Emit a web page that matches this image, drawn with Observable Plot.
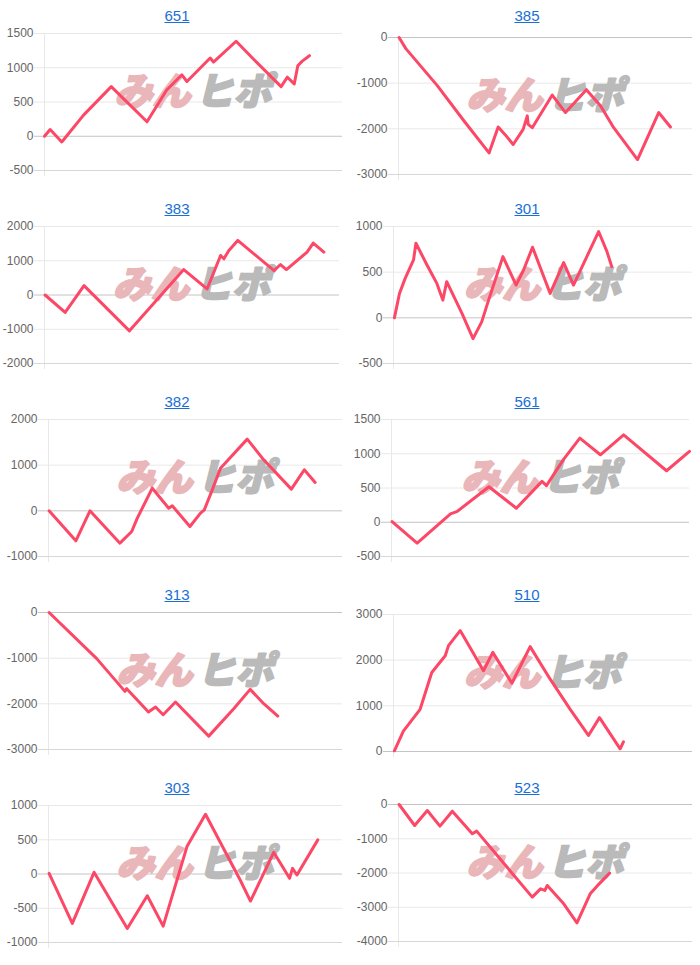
<!DOCTYPE html>
<html>
<head>
<meta charset="utf-8">
<script src="https://cdn.jsdelivr.net/npm/d3@7"></script>
<script src="https://cdn.jsdelivr.net/npm/@observablehq/plot@0.6"></script>
<style>
  html, body { margin: 0; padding: 0; background: #fff; }
  #grid { display: grid; grid-template-columns: 350px 350px; grid-auto-rows: 193px; width: 700px; }
  .cell { position: relative; width: 350px; height: 193px; }
  .title { height: 20px; line-height: 32px; text-align: center; font-family: "Liberation Sans", Arial, sans-serif; font-size: 15px; padding-left: 4px; position: relative; z-index: 1; }
  .title a { color: #1a6fd6; text-decoration: underline; }
  svg { display: block; overflow: visible; }
</style>
</head>
<body>
<div id="grid"></div>
<script>
// machine numbers (panel titles)
const machines = ["651", "385", "383", "301", "382", "561", "313", "510", "303", "523"];

// series: [position along x (0..1000), value]
const s651 = [[0,0],[19,98],[58,-83],[131,309],[224,725],[344,211],[410,676],[461,897],[478,799],[556,1142],[567,1083],[643,1387],[701,1127],[794,725],[815,862],[838,764],[850,1029],[864,1093],[889,1176]];
const s385 = [[2,0],[25,-243],[132,-1054],[223,-1828],[308,-2528],[339,-1960],[362,-2122],[390,-2343],[424,-2012],[438,-1717],[441,-1901],[455,-1975],[523,-1260],[568,-1643],[639,-1142],[687,-1496],[732,-1975],[813,-2675],[885,-1643],[925,-1960]];
const s383 = [[2,0],[70,-509],[134,274],[288,-1047],[472,743],[551,176],[597,1154],[608,1056],[625,1301],[655,1594],[778,714],[800,890],[820,743],[890,1252],[911,1516],[947,1252]];
const s301 = [[3,0],[20,267],[39,432],[67,634],[75,817],[112,579],[145,377],[165,194],[178,396],[229,48],[266,-227],[295,-44],[318,194],[366,670],[410,359],[435,524],[465,773],[524,267],[569,604],[602,359],[686,945],[714,725],[730,560]];
const s382 = [[2,0],[93,-657],[141,0],[243,-708],[283,-453],[302,-161],[353,496],[409,58],[421,110],[481,-343],[517,-51],[530,22],[557,460],[585,934],[676,1570],[732,1117],[826,475],[870,898],[907,621]];
const s561 = [[2,10],[86,-306],[198,121],[221,160],[327,519],[419,204],[505,597],[520,534],[578,922],[632,1228],[701,985],[779,1277],[923,752],[1000,1034]];
const s313 = [[2,0],[164,-1010],[260,-1727],[266,-1668],[340,-2180],[364,-2070],[390,-2239],[432,-1961],[545,-2707],[630,-2107],[686,-1683],[732,-1997],[780,-2268]];
const s510 = [[3,15],[33,447],[89,924],[128,1731],[173,2098],[184,2318],[223,2648],[301,1768],[332,2171],[396,1496],[457,2296],[524,1584],[591,924],[652,352],[689,741],[758,59],[769,213]];
const s303 = [[2,10],[81,-722],[155,24],[268,-795],[336,-317],[390,-761],[471,400],[534,873],[607,278],[652,-88],[687,-395],[766,317],[820,-63],[830,83],[845,-15],[916,498]];
const s523 = [[2,0],[55,-613],[98,-175],[141,-632],[183,-195],[251,-856],[266,-778],[455,-2705],[483,-2462],[498,-2510],[506,-2364],[562,-2900],[607,-3454],[652,-2608],[675,-2384],[718,-2004]];

// y tick labels per panel
const ticks651 = [-500, 0, 500, 1000, 1500];
const ticks385 = [-3000, -2000, -1000, 0];
const ticks383 = [-2000, -1000, 0, 1000, 2000];
const ticks301 = [-500, 0, 500, 1000];
const ticks382 = [-1000, 0, 1000, 2000];
const ticks561 = [-500, 0, 500, 1000, 1500];
const ticks313 = [-3000, -2000, -1000, 0];
const ticks510 = [0, 1000, 2000, 3000];
const ticks303 = [-1000, -500, 0, 500, 1000];
const ticks523 = [-4000, -3000, -2000, -1000, 0];

const seriesList = [s651, s385, s383, s301, s382, s561, s313, s510, s303, s523];
const tickList = [ticks651, ticks385, ticks383, ticks301, ticks382, ticks561, ticks313, ticks510, ticks303, ticks523];
const watermarkA = "みん";
const watermarkB = "ヒポ";

// layout (not data)
const marginLefts = [44, 48, 44, 43, 48, 41, 48, 43, 48, 48];
const marginRights = [8, 8, 11, 8, 8, 11, 8, 8, 8, 8];
const marginTops = [13, 17, 13, 13, 13, 13, 13, 15, 13, 12];

const grid = document.getElementById("grid");
machines.forEach((m, i) => {
  const cell = document.createElement("div");
  cell.className = "cell";
  const t = document.createElement("div");
  t.className = "title";
  const a = document.createElement("a");
  a.href = "#";
  a.textContent = m;
  t.appendChild(a);
  cell.appendChild(t);

  const ticks = tickList[i];
  const data = seriesList[i].map(([x, y]) => ({x, y}));
  const yMin = d3.min(ticks), yMax = d3.max(ticks);
  const mt = marginTops[i];
  const plotH = 137;
  const height = 173;
  const mb = height - mt - plotH;

  const chart = Plot.plot({
    width: 350,
    height,
    marginTop: mt,
    marginBottom: mb,
    marginLeft: marginLefts[i],
    marginRight: marginRights[i],
    style: {background: "transparent", fontFamily: "'Liberation Sans', Arial, sans-serif", fontSize: "12px", overflow: "visible"},
    x: {domain: [0, 1000], axis: null},
    y: {domain: [yMin, yMax], axis: null},
    marks: [
      Plot.ruleY(ticks.filter(v => v !== 0 && v !== yMin), {stroke: "#e8e8e8", strokeWidth: 1, insetLeft: -10}),
      Plot.ruleX([0], {stroke: "#e8e8e8", strokeWidth: 1, insetBottom: -6}),
      Plot.ruleY([yMin], {stroke: yMin === 0 ? "#c4c4c4" : "#d8d8d8", strokeWidth: 1, insetLeft: -10}),
      Plot.ruleY(ticks.filter(v => v === 0 && v !== yMin), {stroke: "#c4c4c4", strokeWidth: 1, insetLeft: -10}),
      Plot.axisY(ticks, {tickSize: 0, tickPadding: 11, fill: "#666", fontSize: 12, label: null, tickFormat: d => String(d)}),
      Plot.text([watermarkA], {text: d => d, frameAnchor: "middle", textAnchor: "end", dx: -3, dy: -9,
        fill: "#e9b7b9", stroke: "#e9b7b9", strokeWidth: 2, fontSize: 38, fontWeight: 900, fontStyle: "italic",
        fontFamily: "'Noto Sans CJK JP', sans-serif"}),
      Plot.text([watermarkB], {text: d => d, frameAnchor: "middle", textAnchor: "start", dx: 2, dy: -9,
        fill: "#bababa", stroke: "#bababa", strokeWidth: 2, fontSize: 38, fontWeight: 900, fontStyle: "italic",
        fontFamily: "'Noto Sans CJK JP', sans-serif"}),
      Plot.line(data, {x: "x", y: "y", stroke: "#fc4766", strokeWidth: 3, strokeLinejoin: "round", strokeLinecap: "round"})
    ]
  });
  cell.appendChild(chart);
  grid.appendChild(cell);
});
</script>
</body>
</html>
